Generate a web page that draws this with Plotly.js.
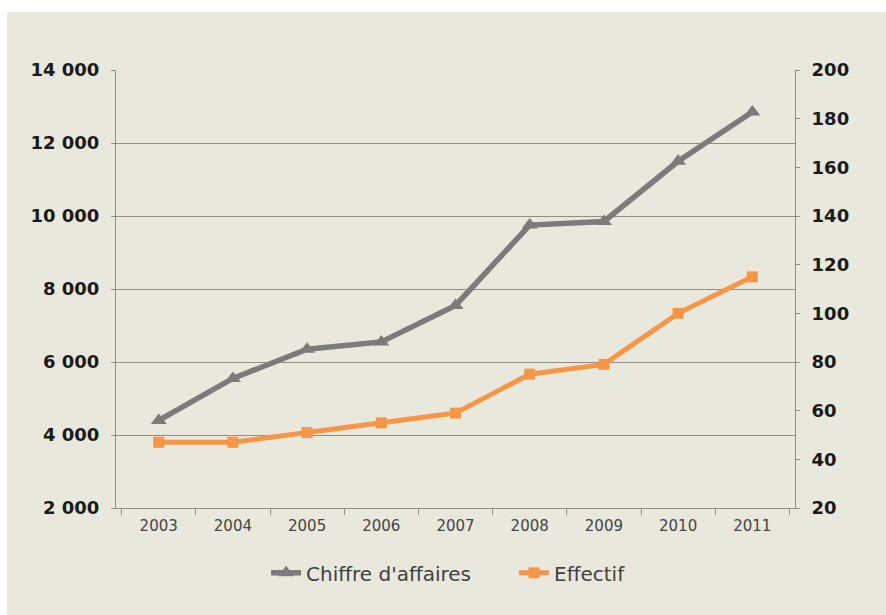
<!DOCTYPE html>
<html>
<head>
<meta charset="utf-8">
<script src="https://cdn.plot.ly/plotly-3.0.1.min.js"></script>
<style>
html,body{margin:0;padding:0;background:#ffffff;}
#chart{position:absolute;left:7px;top:12px;width:879px;height:603px;}
</style>
</head>
<body>
<div id="chart"></div>
<script>
const years = ['2003','2004','2005','2006','2007','2008','2009','2010','2011'];
const chiffreAffaires = [4400, 5550, 6350, 6550, 7550, 9750, 9850, 11500, 12850];
const effectif = [47, 47, 51, 55, 59, 75, 79, 100, 115];
const seriesNames = ["Chiffre d'affaires", 'Effectif'];

const traces = [
  {
    x: years, y: chiffreAffaires, name: seriesNames[0], type: 'scatter', mode: 'lines+markers',
    line: {color: '#7b7b7b', width: 5.5},
    marker: {symbol: 'triangle-up', size: 14, color: '#7b7b7b'},
    yaxis: 'y'
  },
  {
    x: years, y: effectif, name: seriesNames[1], type: 'scatter', mode: 'lines+markers',
    line: {color: '#f79646', width: 5},
    marker: {symbol: 'square', size: 11, color: '#f79646'},
    yaxis: 'y2'
  }
];

const layout = {
  width: 879, height: 603,
  paper_bgcolor: '#e9e8dc', plot_bgcolor: '#e9e8dc',
  separators: ', ',
  margin: {l: 109, r: 91, t: 58, b: 107},
  font: {family: 'DejaVu Sans, Verdana, sans-serif', color: '#222'},
  showlegend: true,
  legend: {orientation: 'h', x: 0.221, xanchor: 'left', y: -0.148, yanchor: 'middle',
           font: {size: 20, color: '#404040'}, bgcolor: 'rgba(0,0,0,0)', itemwidth: 30,
           entrywidth: 203, entrywidthmode: 'pixels'},
  xaxis: {
    type: 'category', tickson: 'boundaries', ticks: 'outside', ticklen: 6, tickcolor: '#8e8e86',
    showline: true, linecolor: '#8e8e86', linewidth: 1, showgrid: false,
    tickfont: {size: 15, color: '#444'}, zeroline: false, ticklabelstandoff: 4
  },
  yaxis: {
    range: [2000, 14000], dtick: 2000, tickformat: ',d', ticks: 'outside', ticklen: 4,
    tickcolor: '#8e8e86', showline: true, linecolor: '#8e8e86', linewidth: 1,
    showgrid: true, gridcolor: '#8e8e86', gridwidth: 1, zeroline: false,
    tickfont: {size: 18, color: '#1a1a1a', weight: 'bold'}, ticklabelstandoff: 8
  },
  yaxis2: {
    range: [20, 200], dtick: 20, overlaying: 'y', side: 'right', ticks: 'outside', ticklen: 4,
    tickcolor: '#8e8e86', showline: true, linecolor: '#8e8e86', linewidth: 1,
    showgrid: false, zeroline: false,
    tickfont: {size: 18, color: '#1a1a1a', weight: 'bold'}, ticklabelstandoff: 8
  }
};

Plotly.newPlot('chart', traces, layout, {displayModeBar: false, staticPlot: true});
</script>
</body>
</html>
